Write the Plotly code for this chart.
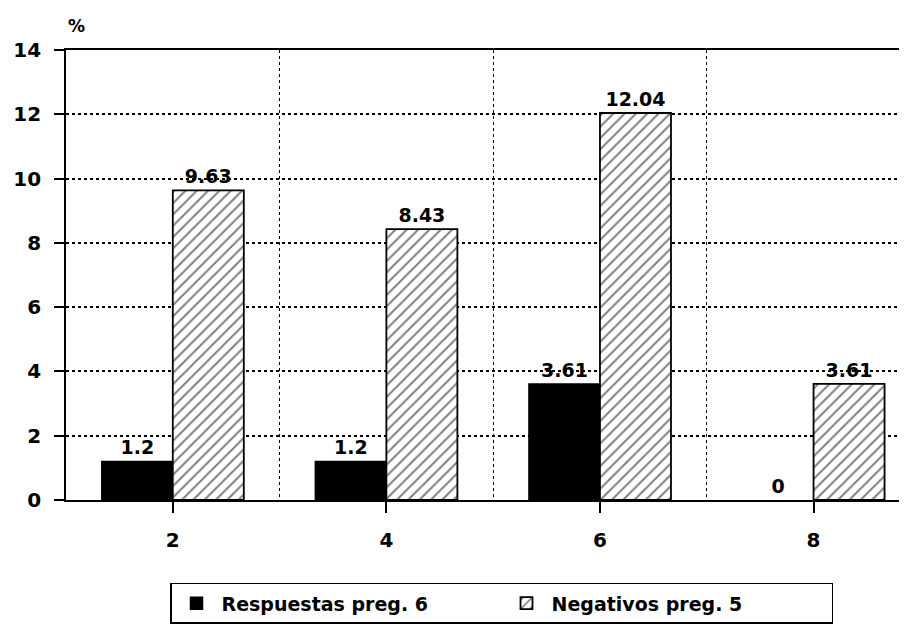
import plotly.graph_objects as go

categories = [2, 4, 6, 8]
respuestas = [1.2, 1.2, 3.61, 0]
negativos = [9.63, 8.43, 12.04, 3.61]
y_ticks = [0, 2, 4, 6, 8, 10, 12, 14]
dividers = [3, 5, 7]

FONT = "DejaVu Sans"


def labels(vals):
    return [f"<b>{v:g}</b>" for v in vals]


fig = go.Figure()
fig.add_trace(go.Bar(
    x=categories, y=respuestas, name="<b>Respuestas preg. 6</b>",
    marker=dict(color="black",
                line=dict(color="black", width=[1.5 if v > 0 else 0 for v in respuestas])),
    text=labels(respuestas), textposition="outside",
    textfont=dict(family=FONT, size=19, color="black"), cliponaxis=False,
))
fig.add_trace(go.Bar(
    x=categories, y=negativos, name="<b>Negativos preg. 5</b>",
    marker=dict(color="white", line=dict(color="black", width=1.8),
                pattern=dict(shape="/", fgcolor="black", bgcolor="white", size=8, solidity=0.25)),
    text=labels(negativos), textposition="outside",
    textfont=dict(family=FONT, size=19, color="black"), cliponaxis=False,
))

fig.update_layout(
    width=907, height=642,
    margin=dict(l=58, r=0, t=42, b=150),
    plot_bgcolor="white", paper_bgcolor="white",
    barmode="group", bargap=0.335, bargroupgap=0,
    font=dict(family=FONT, size=20, color="black"),
    showlegend=True,
    legend=dict(
        orientation="h", x=0.1225, xanchor="left", y=-0.184, yanchor="top",
        bordercolor="black", borderwidth=1.5,
        font=dict(family=FONT, size=19, color="black"),
        entrywidth=275, entrywidthmode="pixels", itemwidth=40,
    ),
    annotations=[dict(
        text="<b>%</b>", xref="paper", yref="paper", x=0.0, y=1, xshift=0, yshift=12,
        xanchor="left", yanchor="bottom", showarrow=False,
        font=dict(family=FONT, size=17, color="black"),
    )],
)

fig.update_xaxes(
    range=[1, 8.95], tickvals=categories, ticktext=[f"<b>{c}</b>" for c in categories],
    showgrid=False, zeroline=False,
    showline=True, linecolor="black", linewidth=1.8, mirror=True,
    ticks="outside", ticklen=11, tickwidth=1.5, tickcolor="black",
    ticklabelstandoff=10,
    tickfont=dict(family=FONT, size=20, color="black"),
    minor=dict(tickvals=dividers, showgrid=True, gridcolor="black", griddash="dot", gridwidth=1, ticks=""),
)
fig.update_yaxes(
    range=[0, 14], tickvals=y_ticks, ticktext=[f"<b>{t}</b>" for t in y_ticks],
    showgrid=True, gridcolor="black", griddash="dot", gridwidth=1.5,
    zeroline=False, showline=True, linecolor="black", linewidth=1.8,
    ticks="outside", ticklen=10, tickwidth=1.5, tickcolor="black",
    ticklabelstandoff=9,
    tickfont=dict(family=FONT, size=20, color="black"),
)

fig.write_html("out.html")
